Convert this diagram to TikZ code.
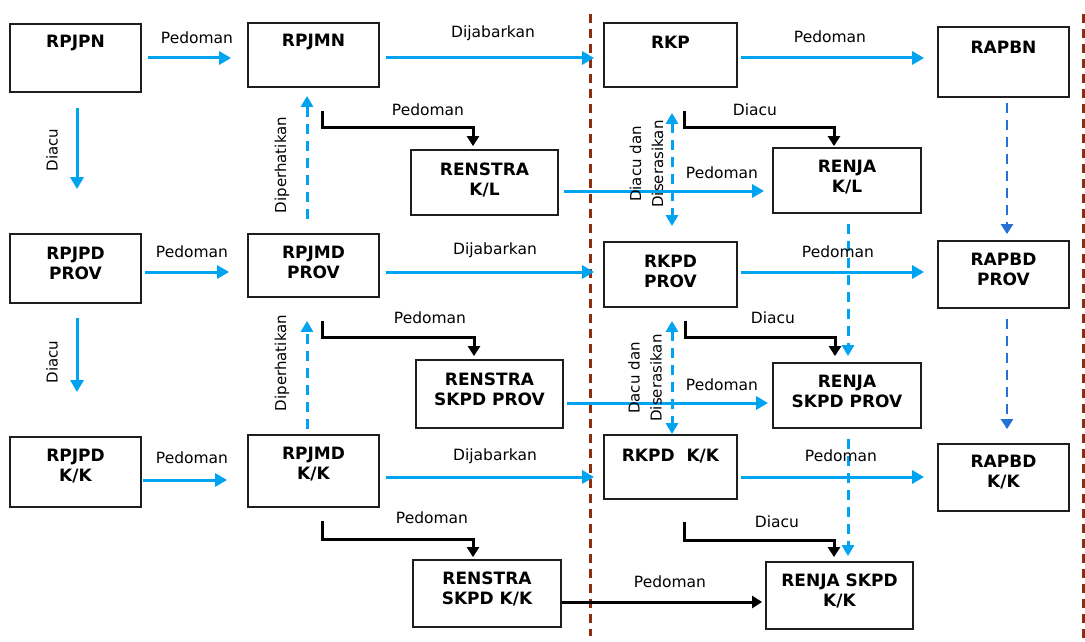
\documentclass[tikz,border=0pt]{standalone}
\usepackage{fontspec}
\setmainfont{DejaVu Sans}
\usetikzlibrary{arrows.meta,calc}
\definecolor{lblue}{RGB}{0,163,240}
\definecolor{dblue}{RGB}{38,113,214}
\definecolor{dred}{RGB}{140,45,15}
\definecolor{bord}{RGB}{30,30,30}
\tikzset{
 box/.style={draw=bord, line width=1.8pt, inner sep=0pt, rectangle},
 ttl/.style={font=\bfseries\fontsize{17}{20}\selectfont, align=center, inner sep=0pt},
 lbl/.style={font=\fontsize{15.5}{18}\selectfont, inner sep=0pt},
 vlbl/.style={font=\fontsize{15}{22}\selectfont, inner sep=0pt, rotate=90, align=center},
 barrow/.style={draw=lblue, line width=3pt, -{Triangle[length=12pt,width=13pt]}},
 ldash/.style={draw=lblue, line width=3pt, dash pattern=on 10pt off 7pt, -{Triangle[length=11pt,width=12pt]}},
 ldashb/.style={draw=lblue, line width=3pt, dash pattern=on 10pt off 7pt, {Triangle[length=11pt,width=12pt]}-{Triangle[length=11pt,width=12pt]}},
 ddash/.style={draw=dblue, line width=2.8pt, dash pattern=on 10pt off 7pt, -{Triangle[length=10pt,width=12pt]}},
 karrow/.style={draw=black, line width=3pt, -{Triangle[length=10pt,width=12pt]}},
 sepline/.style={draw=dred, line width=3pt, dash pattern=on 9pt off 6pt},
}
\begin{document}
\begin{tikzpicture}[x=1pt,y=-1pt]
\useasboundingbox[fill=white] (0,0) rectangle (1085,642);
% separators
\draw[sepline] (590,14) -- (590,636);
\draw[sepline] (1083,14) -- (1083,642);
% boxes
\node[box, minimum width=131pt, minimum height=68pt] (rpjpn) at (75.5,58) {};
\node[box, minimum width=131pt, minimum height=64pt] (rpjmn) at (313.5,55) {};
\node[box, minimum width=133pt, minimum height=64pt] (rkp) at (670.5,55) {};
\node[box, minimum width=131pt, minimum height=70pt] (rapbn) at (1003.5,62) {};
\node[box, minimum width=147pt, minimum height=65pt] (renstrakl) at (484.5,182.5) {};
\node[box, minimum width=148pt, minimum height=65pt] (renjakl) at (847,180.5) {};
\node[box, minimum width=131pt, minimum height=69pt] (rpjpdprov) at (75.5,268.5) {};
\node[box, minimum width=131pt, minimum height=63pt] (rpjmdprov) at (313.5,265.5) {};
\node[box, minimum width=133pt, minimum height=65pt] (rkpdprov) at (670.5,274.5) {};
\node[box, minimum width=131pt, minimum height=67pt] (rapbdprov) at (1003.5,274.5) {};
\node[box, minimum width=147pt, minimum height=68pt] (renstraprov) at (489.5,394) {};
\node[box, minimum width=148pt, minimum height=65pt] (renjaprov) at (847,395.5) {};
\node[box, minimum width=131pt, minimum height=70pt] (rpjpdkk) at (75.5,472) {};
\node[box, minimum width=131pt, minimum height=72pt] (rpjmdkk) at (313.5,471) {};
\node[box, minimum width=133pt, minimum height=64pt] (rkpdkk) at (670.5,467) {};
\node[box, minimum width=131pt, minimum height=67pt] (rapbdkk) at (1003.5,477.5) {};
\node[box, minimum width=148pt, minimum height=67pt] (renstrakk) at (487,593.5) {};
\node[box, minimum width=147pt, minimum height=67pt] (renjakk) at (839.5,595.5) {};
% box titles
\node[ttl] (t1) at (75.5,43) {RPJPN};
\node[ttl] (t2) at (313.5,42) {RPJMN};
\node[ttl] (t3) at (670.5,42) {RKP};
\node[ttl] (t4) at (1003.5,47) {RAPBN};
\node[ttl] (t5) at (484.5,180) {RENSTRA\\K/L};
\node[ttl] (t6) at (847,177.5) {RENJA\\K/L};
\node[ttl] (t7) at (75.5,263) {RPJPD\\PROV};
\node[ttl] (t8) at (313.5,262) {RPJMD\\PROV};
\node[ttl] (t9) at (670.5,271) {RKPD\\PROV};
\node[ttl] (t10) at (1003.5,269) {RAPBD\\PROV};
\node[ttl] (t11) at (489.5,389) {RENSTRA\\SKPD PROV};
\node[ttl] (t12) at (847,391) {RENJA\\SKPD PROV};
\node[ttl] (t13) at (75.5,466) {RPJPD\\K/K};
\node[ttl] (t14) at (313.5,464) {RPJMD\\K/K};
\node[ttl] (t15) at (670.5,456) {RKPD\ \ K/K};
\node[ttl] (t16) at (1003.5,472) {RAPBD\\K/K};
\node[ttl] (t17) at (487,589) {RENSTRA\\SKPD K/K};
\node[ttl] (t18) at (839.5,591) {RENJA SKPD\\K/K};
% horizontal blue arrows
\draw[barrow] ($(rpjpn.east)+(6,0)$) -- ($(rpjmn.west)+(-16,3)$);
\draw[barrow] ($(rpjmn.east)+(6,3)$) -- ($(rkp.west)+(-9,3)$);
\draw[barrow] ($(rkp.east)+(3,3)$) -- ($(rapbn.west)+(-13,-4)$);
\draw[barrow] ($(rpjpdprov.east)+(3,3.5)$) -- ($(rpjmdprov.west)+(-18,6.5)$);
\draw[barrow] ($(rpjmdprov.east)+(6,6.5)$) -- ($(rkpdprov.west)+(-9,-2.5)$);
\draw[barrow] ($(rkpdprov.east)+(3,-2.5)$) -- ($(rapbdprov.west)+(-13,-2.5)$);
\draw[barrow] ($(rpjpdkk.east)+(1,8)$) -- ($(rpjmdkk.west)+(-20,9)$);
\draw[barrow] ($(rpjmdkk.east)+(6,6)$) -- ($(rkpdkk.west)+(-9,10)$);
\draw[barrow] ($(rkpdkk.east)+(3,10)$) -- ($(rapbdkk.west)+(-13,-0.5)$);
% vertical blue arrows
\draw[barrow] ($(rpjpn.south)+(1.5,15)$) -- ($(rpjpdprov.north)+(1.5,-44)$);
\draw[barrow] ($(rpjpdprov.south)+(1.5,14)$) -- ($(rpjpdkk.north)+(1.5,-44)$);
% renstra -> renja
\draw[barrow] ($(renstrakl.east)+(5,8.5)$) -- ($(renjakl.west)+(-8,10.5)$);
\draw[barrow] ($(renstraprov.east)+(3,9)$) -- ($(renjaprov.west)+(-4,7.5)$);
\draw[karrow] ($(renstrakk.east)+(0,8.5)$) -- ($(renjakk.west)+(-3,6.5)$);
% dashed
\draw[ldash] ($(rpjmdprov.north)+(-6.5,-14)$) -- ($(rpjmn.south)+(-6.5,8)$);
\draw[ldash] ($(rpjmdkk.north)+(-6.5,-5)$) -- ($(rpjmdprov.south)+(-6.5,23)$);
\draw[ldashb] ($(rkp.south)+(1.5,25)$) -- ($(rkpdprov.north)+(1.5,-15)$);
\draw[ldashb] ($(rkpdprov.south)+(1.5,13)$) -- ($(rkpdkk.north)+(1.5,0)$);
\draw[ldash] ($(renjakl.south)+(1,10)$) -- ($(renjaprov.north)+(1,-6)$);
\draw[ldash] ($(renjaprov.south)+(1,10)$) -- ($(renjakk.north)+(8.5,-5)$);
\draw[ddash] ($(rapbn.south)+(3.5,5)$) -- ($(rapbdprov.north)+(3.5,-6)$);
\draw[ddash] ($(rapbdprov.south)+(3.5,10)$) -- ($(rapbdkk.north)+(3.5,-14)$);
% black elbows
\draw[karrow] ($(rpjmn.south)+(8.5,23)$) |- ($(renstrakl.north)+(-11.5,-22)$) -- ($(renstrakl.north)+(-11.5,-3)$);
\draw[karrow] ($(rpjmdprov.south)+(8.5,23)$) |- ($(renstraprov.north)+(-15.5,-22)$) -- ($(renstraprov.north)+(-15.5,-3)$);
\draw[karrow] ($(rpjmdkk.south)+(8.5,13)$) |- ($(renstrakk.north)+(-14,-20)$) -- ($(renstrakk.north)+(-14,-2)$);
\draw[karrow] ($(rkp.south)+(13.5,23)$) |- ($(renjakl.north)+(-13,-20)$) -- ($(renjakl.north)+(-13,-1)$);
\draw[karrow] ($(rkpdprov.south)+(14.5,13)$) |- ($(renjaprov.north)+(-12,-25)$) -- ($(renjaprov.north)+(-12,-6)$);
\draw[karrow] ($(rkpdkk.south)+(13.5,22)$) |- ($(renjakk.north)+(-5.5,-21)$) -- ($(renjakk.north)+(-5.5,-4)$);
% labels
\node[lbl] (l1) at (197,38) {Pedoman};
\node[lbl] (l2) at (493,33) {Dijabarkan};
\node[lbl] (l3) at (830,37) {Pedoman};
\node[lbl] (l4) at (192,252) {Pedoman};
\node[lbl] (l5) at (495,250) {Dijabarkan};
\node[lbl] (l6) at (838,252) {Pedoman};
\node[lbl] (l7) at (192,458) {Pedoman};
\node[lbl] (l8) at (495,456) {Dijabarkan};
\node[lbl] (l9) at (841,456) {Pedoman};
\node[lbl] (l10) at (428,110) {Pedoman};
\node[lbl] (l11) at (430,318) {Pedoman};
\node[lbl] (l12) at (432,518) {Pedoman};
\node[lbl] (l13) at (755,110) {Diacu};
\node[lbl] (l14) at (773,318) {Diacu};
\node[lbl] (l15) at (777,522) {Diacu};
\node[lbl] (l16) at (722,173) {Pedoman};
\node[lbl] (l17) at (722,385) {Pedoman};
\node[lbl] (l18) at (670,582) {Pedoman};
\node[vlbl] (v1) at (52,150) {Diacu};
\node[vlbl] (v2) at (52,362) {Diacu};
\node[vlbl] (v3) at (282,165) {Diperhatikan};
\node[vlbl] (v4) at (282,363) {Diperhatikan};
\node[vlbl] (v5) at (646.5,164) {Diacu dan\\Diserasikan};
\node[vlbl] (v6) at (645,378) {Dacu dan\\Diserasikan};
\end{tikzpicture}
\end{document}
